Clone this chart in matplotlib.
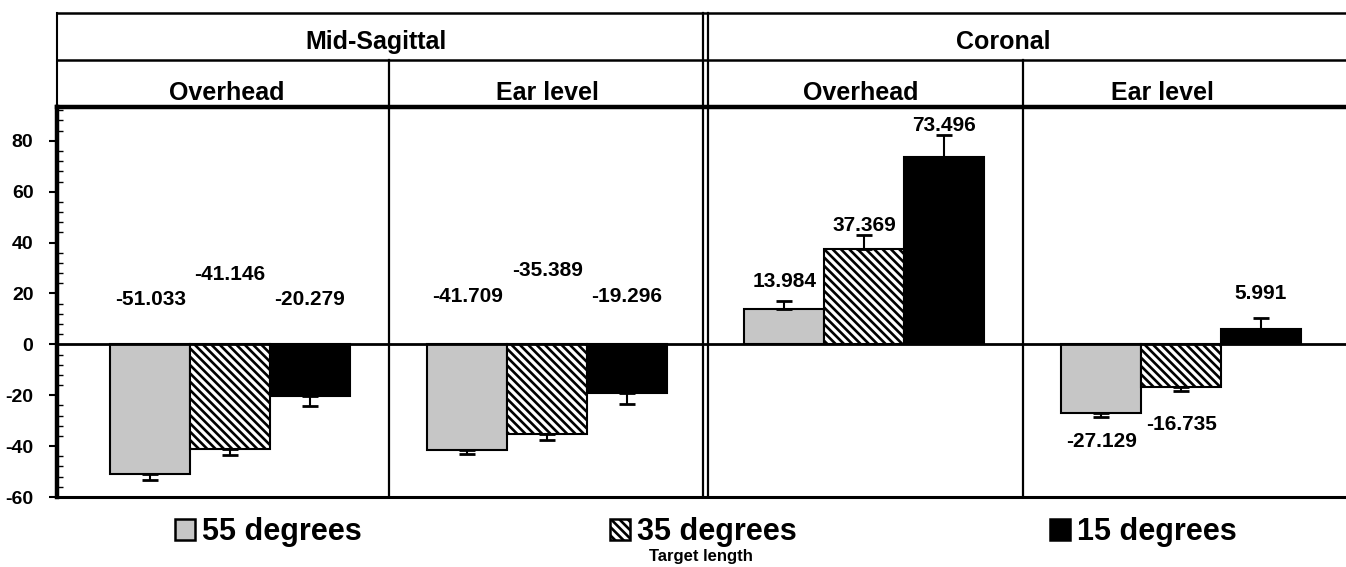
import numpy as np
import matplotlib.pyplot as plt
from matplotlib.patches import Rectangle
from matplotlib.ticker import MultipleLocator

plt.rcParams['font.family'] = ['Liberation Sans', 'DejaVu Sans']
plt.rcParams['font.weight'] = 'bold'
plt.rcParams['axes.unicode_minus'] = False
plt.rcParams['hatch.linewidth'] = 1.9

# group headers and bar series
planes = ['Mid-Sagittal', 'Coronal']
positions = ['Overhead', 'Ear level', 'Overhead', 'Ear level']
series = ['55 degrees', '35 degrees', '15 degrees']
axis_title = 'Target length'

# mean error per condition, one list per target length
deg55 = [-51.033, -41.709, 13.984, -27.129]
deg35 = [-41.146, -35.389, 37.369, -16.735]
deg15 = [-20.279, -19.296, 73.496, 5.991]

# standard error (drawn away from zero)
err55 = [2.3, 1.5, 3.0, 1.5]
err35 = [2.4, 2.3, 5.5, 1.7]
err15 = [4.0, 4.0, 8.9, 4.2]

# where the value labels sit (data units)
label_y55 = [17.6, 18.8, 24.7, -38.0]
label_y35 = [27.5, 29.0, 46.7, -31.4]
label_y15 = [17.6, 18.8, 85.9, 20.0]

values = [deg55, deg35, deg15]
errors = [err55, err35, err15]
label_ys = [label_y55, label_y35, label_y15]
faces = ['#c6c6c6', 'white', 'black']
hatches = [None, '\\\\\\\\', None]

W, H = 1346, 567
fig = plt.figure(figsize=(W / 100, H / 100), dpi=100)

x0, x1 = -0.546, 3.52
ax_left = 57 / W
ax_bottom = (H - 497) / H
ax_height = (497 - 107) / H
ax = fig.add_axes([ax_left, ax_bottom, 1 - ax_left, ax_height])
ax.set_xlim(x0, x1)
ax.set_ylim(-60, 93.3)

x = np.arange(len(positions))
width = 0.252
for i, (vals, errs, ly) in enumerate(zip(values, errors, label_ys)):
    xs = x + (i - 1) * width
    ax.bar(xs, vals, width=width, color=faces[i], hatch=hatches[i],
           edgecolor='black', linewidth=1.5, zorder=2)
    vals = np.array(vals)
    errs = np.array(errs)
    lower = np.where(vals < 0, errs, 0)
    upper = np.where(vals >= 0, errs, 0)
    ax.errorbar(xs, vals, yerr=[lower, upper], fmt='none', ecolor='black',
                elinewidth=1.5, capsize=6, capthick=2, zorder=3)
    for xi, v, yy in zip(xs, vals, ly):
        ax.text(xi, yy, f'{v:.3f}', ha='center', va='center', fontsize=15,
                fontweight='bold')

ax.axhline(0, color='black', lw=2, zorder=4)
for sep in [0.5, 2.5]:
    ax.axvline(sep, color='black', lw=1.6)
for sep in [1.5 - 0.007, 1.5 + 0.007]:
    ax.axvline(sep, color='black', lw=1.6)

ax.yaxis.set_major_locator(MultipleLocator(20))
ax.yaxis.set_minor_locator(MultipleLocator(4))
ax.tick_params(axis='y', which='major', direction='out', length=6, width=1.5,
               labelsize=14, pad=11)
ax.tick_params(axis='y', which='minor', direction='in', length=4, width=1)
ax.set_xticks([])
ax.spines['right'].set_visible(False)
ax.spines['left'].set_linewidth(3.2)
ax.spines['bottom'].set_linewidth(2.2)
ax.spines['top'].set_linewidth(3.2)
for lab in ax.get_yticklabels():
    lab.set_fontweight('bold')

# two-row header above the plot
hax = fig.add_axes([ax_left, 1 - 107 / H, 1 - ax_left, (107 - 13) / H])
hax.set_xlim(x0, x1)
hax.set_ylim(0, 1)
hax.axis('off')
line_kw = dict(color='black', clip_on=False)
hax.plot([x0, x1], [1, 1], lw=1.8, **line_kw)
hax.plot([x0, x1], [0.5, 0.5], lw=1.8, **line_kw)
hax.plot([x0, x0], [0, 1], lw=1.5, **line_kw)
for sep in [0.5, 2.5]:
    hax.plot([sep, sep], [0, 0.5], lw=1.6, **line_kw)
for sep in [1.5 - 0.007, 1.5 + 0.007]:
    hax.plot([sep, sep], [0, 1], lw=1.6, **line_kw)

for name, xc in zip(planes, [0.46, 2.44]):
    hax.text(xc, 0.62, name, ha='center', va='baseline', fontsize=18,
             fontweight='bold')
for name, xc in zip(positions, [-0.01, 1, 1.99, 2.94]):
    hax.text(xc, 0.074, name, ha='center', va='baseline', fontsize=18,
             fontweight='bold')

# legend row along the bottom
legend_x = [175, 610, 1050]
box = 20
for px, name, fc, ht in zip(legend_x, series, faces, hatches):
    fig.add_artist(Rectangle((px / W, (H - 540) / H), box / W, 21 / H,
                             transform=fig.transFigure, facecolor=fc,
                             hatch=ht, edgecolor='black', linewidth=1.8))
    fig.text((px + box + 7) / W, (H - 540) / H, name, ha='left',
             va='baseline', fontsize=22, fontweight='bold')
fig.text(701 / W, (H - 561) / H, axis_title, ha='center', va='baseline',
         fontsize=12, fontweight='bold')

fig.savefig('out.png', dpi=100)
